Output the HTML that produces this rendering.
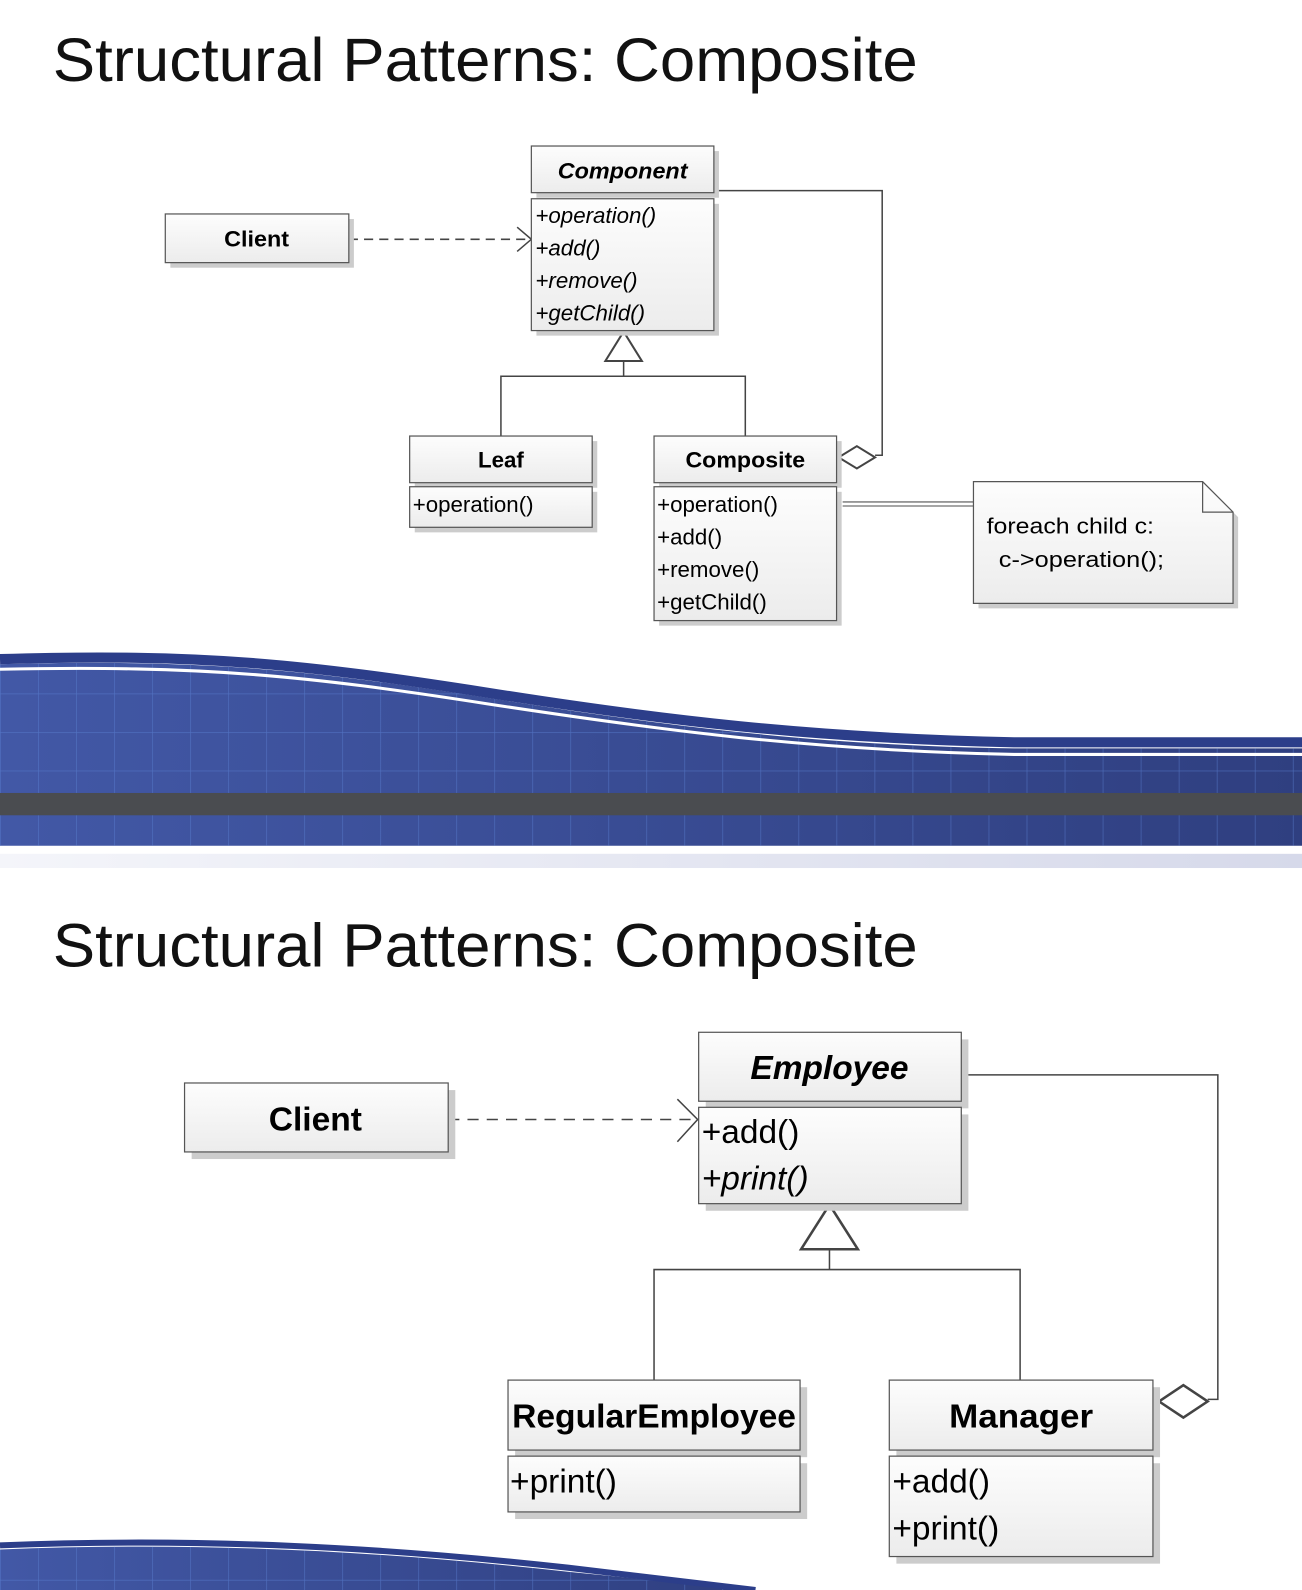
<!DOCTYPE html>
<html><head><meta charset="utf-8"><style>html,body{margin:0;padding:0;background:#fff}svg{display:block}</style></head><body>
<svg width="1302" height="1590" viewBox="0 0 1284 1568" preserveAspectRatio="none" xmlns="http://www.w3.org/2000/svg" font-family="Liberation Sans, sans-serif">
<defs>
<linearGradient id="bx" x1="0" y1="0" x2="0" y2="1"><stop offset="0" stop-color="#fdfdfd"/><stop offset="1" stop-color="#ececec"/></linearGradient>
<linearGradient id="bl" x1="0" y1="0" x2="1" y2="0"><stop offset="0" stop-color="#4258a6"/><stop offset="1" stop-color="#2f3f80"/></linearGradient>
<linearGradient id="lt" x1="0" y1="0" x2="1" y2="0"><stop offset="0" stop-color="#f4f5fa"/><stop offset="1" stop-color="#d6d9ea"/></linearGradient>
<pattern id="grid" width="37.5" height="38" patternUnits="userSpaceOnUse"><path d="M0 0V38M0 0H37.5" stroke="#5a7fd0" stroke-width="1.2" fill="none" opacity=".7"/></pattern>
</defs>
<g fill="#111">
<text x="52" y="80" font-size="60" textLength="853" lengthAdjust="spacingAndGlyphs">Structural Patterns: Composite</text>
<text x="52" y="953" font-size="60" textLength="853" lengthAdjust="spacingAndGlyphs">Structural Patterns: Composite</text>
</g>
<!-- band 1 -->
<path d="M0 655 C200 650 300 660 480 688 C650 715 800 735 1000 738 L1284 738 L1284 834 L0 834 Z" fill="url(#bl)"/>
<path d="M0 655 C200 650 300 660 480 688 C650 715 800 735 1000 738 L1284 738 L1284 834 L0 834 Z" fill="url(#grid)"/>
<path d="M0 650 C200 644 300 655 480 683 C650 710 800 728 1000 732 L1284 732" stroke="#2c3e8a" stroke-width="10" fill="none"/>
<path d="M0 660 C200 656 300 666 480 694 C650 720 800 740 1000 744 L1284 744" stroke="#fff" stroke-width="3" fill="none"/>
<rect x="0" y="782" width="1284" height="22" fill="#4a4c50"/>
<rect x="0" y="842" width="1284" height="14" fill="url(#lt)"/>
<!-- band 2 -->
<path d="M0 1528 C200 1520 380 1530 560 1550 L740 1568 L0 1568 Z" fill="url(#bl)"/>
<path d="M0 1528 C200 1520 380 1530 560 1550 L740 1568 L0 1568 Z" fill="url(#grid)"/>
<path d="M0 1524 C200 1516 380 1526 560 1546 L745 1568" stroke="#2c3e8a" stroke-width="6" fill="none"/>
<g stroke="#444" stroke-width="1.5" fill="none">
<!-- diagram 1 connectors -->
<path d="M344 236H522" stroke-dasharray="9 6"/>
<path d="M510 224L524 236L510 248"/>
<path d="M615 356V371M494 430V371H735V430"/>
<path d="M615 327L597 356H633Z" stroke-width="2" fill="#fff"/>
<path d="M704 188H870V449H863"/>
<path d="M827 451L845 440L863 451L845 462Z" stroke-width="2" fill="#fff"/>
<path d="M831 495H960M831 499H960" stroke="#888"/>
<!-- diagram 2 -->
<path d="M442 1104H686" stroke-dasharray="11 8"/>
<path d="M668 1084L688 1104L668 1126"/>
<path d="M818 1232V1252M645 1361V1252H1006V1361"/>
<path d="M818 1188L790 1232H846Z" stroke-width="2.5" fill="#fff"/>
<path d="M948 1060H1201V1380H1191"/>
<path d="M1143 1382L1167 1366L1191 1382L1167 1398Z" stroke-width="2.5" fill="#fff"/>
</g>
<!-- boxes -->
<g stroke="#555" stroke-width="1.2" fill="url(#bx)">
<g fill="#ccc" stroke="none">
<rect x="168" y="216" width="181" height="48"/>
<rect x="529" y="149" width="180" height="46"/><rect x="529" y="201" width="180" height="130"/>
<rect x="409" y="435" width="180" height="46"/><rect x="409" y="485" width="180" height="40"/>
<rect x="650" y="435" width="180" height="46"/><rect x="650" y="485" width="180" height="132"/>
<path d="M965 480H1191L1221 510V600H965Z"/>
<rect x="189" y="1075" width="260" height="68"/>
<rect x="696" y="1025" width="259" height="68"/><rect x="696" y="1099" width="259" height="95"/>
<rect x="508" y="1368" width="288" height="69"/><rect x="508" y="1443" width="288" height="55"/>
<rect x="884" y="1368" width="260" height="69"/><rect x="884" y="1443" width="260" height="99"/>
</g>
<rect x="163" y="211" width="181" height="48"/>
<rect x="524" y="144" width="180" height="46"/><rect x="524" y="196" width="180" height="130"/>
<rect x="404" y="430" width="180" height="46"/><rect x="404" y="480" width="180" height="40"/>
<rect x="645" y="430" width="180" height="46"/><rect x="645" y="480" width="180" height="132"/>
<path d="M960 475H1186L1216 505V595H960Z"/><path d="M1186 475V505H1216" fill="none"/>
<rect x="182" y="1068" width="260" height="68"/>
<rect x="689" y="1018" width="259" height="68"/><rect x="689" y="1092" width="259" height="95"/>
<rect x="501" y="1361" width="288" height="69"/><rect x="501" y="1436" width="288" height="55"/>
<rect x="877" y="1361" width="260" height="69"/><rect x="877" y="1436" width="260" height="99"/>
</g>
<g fill="#000" font-size="22">
<text x="253" y="243" font-weight="bold" text-anchor="middle" textLength="64" lengthAdjust="spacingAndGlyphs">Client</text>
<text x="614" y="176" font-weight="bold" font-style="italic" text-anchor="middle" textLength="128" lengthAdjust="spacingAndGlyphs">Component</text>
<g font-style="italic">
<text x="528" y="220">+operation()</text><text x="528" y="252">+add()</text><text x="528" y="284">+remove()</text><text x="528" y="316">+getChild()</text>
</g>
<text x="494" y="461" font-weight="bold" text-anchor="middle">Leaf</text>
<text x="735" y="461" font-weight="bold" text-anchor="middle" textLength="118" lengthAdjust="spacingAndGlyphs">Composite</text>
<text x="407" y="505">+operation()</text>
<text x="648" y="505">+operation()</text><text x="648" y="537">+add()</text><text x="648" y="569">+remove()</text><text x="648" y="601">+getChild()</text>
<text x="973" y="526" textLength="165" lengthAdjust="spacingAndGlyphs">foreach child c:</text>
<text x="985" y="559" textLength="163" lengthAdjust="spacingAndGlyphs">c-&gt;operation();</text>
</g>
<g fill="#000" font-size="33">
<text x="311" y="1115" font-weight="bold" text-anchor="middle" textLength="92" lengthAdjust="spacingAndGlyphs">Client</text>
<text x="818" y="1064" font-weight="bold" font-style="italic" text-anchor="middle" textLength="156" lengthAdjust="spacingAndGlyphs">Employee</text>
<text x="692" y="1127">+add()</text>
<text x="692" y="1173" font-style="italic">+print()</text>
<text x="645" y="1408" font-weight="bold" text-anchor="middle" textLength="280" lengthAdjust="spacingAndGlyphs">RegularEmployee</text>
<text x="1007" y="1408" font-weight="bold" text-anchor="middle" textLength="142" lengthAdjust="spacingAndGlyphs">Manager</text>
<text x="503" y="1472">+print()</text>
<text x="880" y="1472">+add()</text><text x="880" y="1518">+print()</text>
</g>
</svg>
</body></html>
